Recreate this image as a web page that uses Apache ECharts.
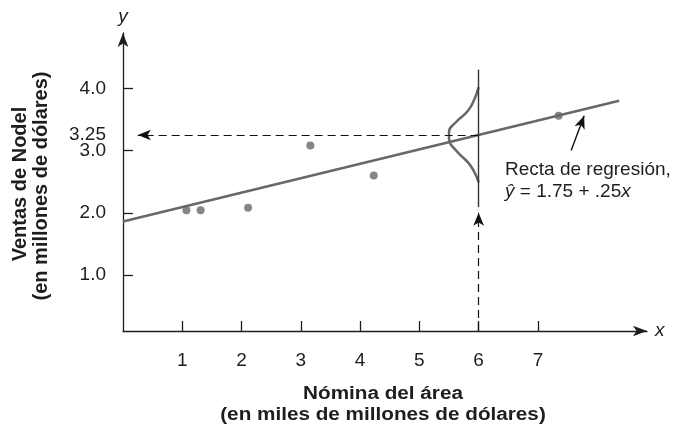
<!DOCTYPE html>
<html>
<head>
<meta charset="utf-8">
<script src="https://cdn.jsdelivr.net/npm/echarts@6/dist/echarts.min.js"></script>
<style>html,body{margin:0;padding:0;background:#fff;}#c{width:685px;height:426px;}</style>
</head>
<body>
<div id="c"></div>
<script>
// ---- data ----
const pointsX = [1.07, 1.31, 2.11, 3.16, 4.23, 7.35];
const pointsY = [2.04, 2.04, 2.08, 3.08, 2.60, 3.56];
const regLineX = [0, 8.37];
const regLineY = [1.86, 3.80];
const curveX = [6.0, 5.93, 5.82, 5.62, 5.50, 5.50, 5.62, 5.82, 5.93, 6.0];
const curveY = [4.02, 3.83, 3.64, 3.46, 3.30, 3.19, 3.00, 2.81, 2.65, 2.49];
const xTicks = [1, 2, 3, 4, 5, 6, 7];
const yTicks = [1, 2, 3, 4];
const yLabels = [1, 2, 3, 3.25, 4];
const xPredict = 6;
const yPredict = 3.25;
const hArrowEndX = 0.25;
const vSolidTop = 4.30, vSolidBottom = 2.09;
const vArrowTipY = 2.0;
const noteArrowFrom = [7.56, 3.0];
const noteArrowTo = [7.78, 3.56];
const xMin = 0, xMax = 8.84, yMin = 0.1, yMax = 4.89;

const FONT = '"Liberation Sans", Arial, sans-serif';
const GRAY = '#686868';
const DARK = '#1e1e1e';

const chart = echarts.init(document.getElementById('c'));
chart.setOption({
  animation: false,
  grid: {left: 123, right: 38, top: 33, bottom: 95},
  xAxis: {
    type: 'value', min: xMin, max: xMax,
    name: 'x', nameLocation: 'end', nameGap: 8,
    nameTextStyle: {fontFamily: FONT, fontSize: 19, fontStyle: 'italic', color: DARK, verticalAlign: 'middle'},
    axisLine: {onZero: false, symbol: ['none', 'arrow'], symbolSize: [8, 14], lineStyle: {color: DARK, width: 1.3}},
    axisTick: {inside: true, length: 10, customValues: xTicks, lineStyle: {color: DARK, width: 1.3}},
    axisLabel: {customValues: xTicks, margin: 20, fontFamily: FONT, fontSize: 19, color: DARK},
    splitLine: {show: false}
  },
  yAxis: {
    type: 'value', min: yMin, max: yMax,
    name: 'y', nameLocation: 'end', nameGap: 7,
    nameTextStyle: {fontFamily: FONT, fontSize: 19, fontStyle: 'italic', color: DARK, align: 'center'},
    axisLine: {onZero: false, symbol: ['none', 'arrow'], symbolSize: [8, 14], lineStyle: {color: DARK, width: 1.3}},
    axisTick: {inside: true, length: 10, customValues: yTicks, lineStyle: {color: DARK, width: 1.3}},
    axisLabel: {customValues: yLabels, margin: 17, fontFamily: FONT, fontSize: 19, color: DARK,
      formatter: v => (Math.abs(v - 3.25) < 1e-9 ? '3.25' : v.toFixed(1))},
    splitLine: {show: false}
  },
  series: [
    {
      type: 'line', data: regLineX.map((x, i) => [x, regLineY[i]]),
      showSymbol: false, silent: true,
      lineStyle: {color: GRAY, width: 2.5}, z: 3,
      markLine: {
        silent: true, animation: false,
        label: {show: false},
        data: [
          [{coord: [xPredict, yPredict], symbol: 'none'}, {coord: [hArrowEndX, yPredict], symbol: 'arrow', symbolSize: [8, 13],
            lineStyle: {color: '#111', width: 1.2, type: [8, 5]}}],
          [{coord: [xPredict, yMin], symbol: 'none'}, {coord: [xPredict, vArrowTipY], symbol: 'arrow', symbolSize: [8, 13],
            lineStyle: {color: '#111', width: 1.2, type: [8, 5]}}],
          [{coord: [xPredict, vSolidTop], symbol: 'none'}, {coord: [xPredict, vSolidBottom], symbol: 'none',
            lineStyle: {color: '#333', width: 1.4, type: 'solid'}}],
          [{coord: noteArrowFrom, symbol: 'none'}, {coord: noteArrowTo, symbol: 'arrow', symbolSize: [8, 13],
            lineStyle: {color: '#111', width: 1.4, type: 'solid'}}]
        ],
        lineStyle: {color: '#111'}
      }
    },
    {
      type: 'line', data: curveX.map((x, i) => [x, curveY[i]]),
      smooth: 0.5, showSymbol: false, silent: true,
      lineStyle: {color: GRAY, width: 2.5}, z: 2
    },
    {
      type: 'scatter', data: pointsX.map((x, i) => [x, pointsY[i]]),
      symbolSize: 8, itemStyle: {color: GRAY}, silent: true, z: 4
    }
  ],
  graphic: [
    {type: 'text', x: 505, y: 170, style: {text: 'Recta de regresión,', font: '19px ' + FONT, fill: DARK, verticalAlign: 'middle'}},
    {type: 'text', x: 505, y: 192, style: {
      text: '{i|ŷ} = 1.75 + .25{i|x}',
      font: '19px ' + FONT, fill: DARK, verticalAlign: 'middle',
      rich: {i: {fontStyle: 'italic', fontSize: 19, fontFamily: FONT, fill: DARK}}
    }},
    {type: 'text', x: 383, y: 394, scaleX: 1.15, style: {text: 'Nómina del área', font: 'bold 18px ' + FONT, fill: DARK, align: 'center', verticalAlign: 'middle'}},
    {type: 'text', x: 383, y: 415, scaleX: 1.15, style: {text: '(en miles de millones de dólares)', font: 'bold 18px ' + FONT, fill: DARK, align: 'center', verticalAlign: 'middle'}},
    {type: 'text', x: 20, y: 184, rotation: Math.PI / 2, style: {text: 'Ventas de Nodel', font: 'bold 20px ' + FONT, fill: DARK, align: 'center', verticalAlign: 'middle'}},
    {type: 'text', x: 41, y: 186, rotation: Math.PI / 2, style: {text: '(en millones de dólares)', font: 'bold 20px ' + FONT, fill: DARK, align: 'center', verticalAlign: 'middle'}}
  ]
});
</script>
</body>
</html>
